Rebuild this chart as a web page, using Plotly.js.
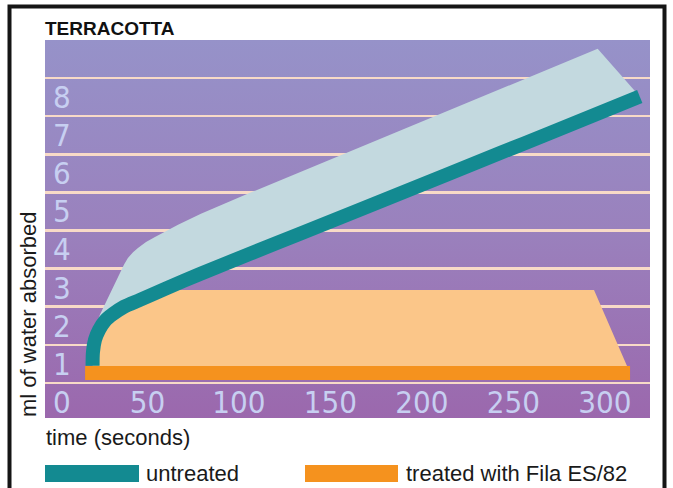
<!DOCTYPE html>
<html>
<head>
<meta charset="utf-8">
<script src="https://cdn.plot.ly/plotly-3.0.1.min.js"></script>
<style>
html,body{margin:0;padding:0;background:#fff;}
#chart{width:673px;height:488px;}
</style>
</head>
<body>
<div id="chart"></div>
<script>
// ---- text ----
const chartTitle = 'TERRACOTTA';
const xTitle = 'time (seconds)';
const yTitle = 'ml of water absorbed';
const seriesNames = ['untreated', 'treated with Fila ES/82'];
// the shared origin label "0" is carried by the y axis
const xTickVals = [50, 100, 150, 200, 250, 300];
const yTickVals = [0, 1, 2, 3, 4, 5, 6, 7, 8];

// ---- data ----
// untreated: front edge of the ribbon
const untreatedTime = [20.0, 20.2, 21.3, 23.5, 26.8, 31.2, 37.2, 45.9, 59.6, 78.7, 106, 133, 188, 243, 270, 319];
const untreatedMl   = [0.95, 1.31, 1.63, 1.89, 2.13, 2.31, 2.50, 2.68, 2.97, 3.36, 3.89, 4.41, 5.47, 6.54, 7.06, 8.02];
// untreated: back edge of the ribbon's top face
const untreatedBackTime = [20.2, 24.0, 30.1, 35.0, 37.2, 39.3, 42.1, 44.8, 49.2, 54.1, 66.7, 79.2, 106, 296];
const untreatedBackMl   = [1.76, 2.29, 2.89, 3.41, 3.61, 3.78, 3.93, 4.04, 4.20, 4.33, 4.65, 4.94, 5.49, 9.27];
// treated with Fila ES/82: front edge of the slab
const treatedTime = [15.9, 313.7];
const treatedMl   = [0.76, 0.76];
// treated: back edge of the slab's top face (right corner)
const treatedBackTime = [294];
const treatedBackMl   = [2.94];

// ---- colours ----
const teal = '#138a91', tealTop = '#c3d9df';
const orange = '#f5921e', orangeTop = '#fbc689';
const labelColor = '#c7cff1';
const gridColor = '#f8dac7';

// ---- build faces from the data ----
function interpX(x0, y0, x1, y1, yy) { return x0 + (x1 - x0) * (yy - y0) / (y1 - y0); }
const backLevel = treatedBackMl[0];
const kCross = untreatedMl.findIndex(v => v >= backLevel);
const xCross = interpX(untreatedTime[kCross - 1], untreatedMl[kCross - 1], untreatedTime[kCross], untreatedMl[kCross], backLevel);
const treatedTopX = [treatedTime[0], treatedTime[1], treatedBackTime[0], xCross];
const treatedTopY = [treatedMl[0], treatedMl[1], backLevel, backLevel];
for (let i = kCross - 1; i >= 0; i--) { treatedTopX.push(untreatedTime[i]); treatedTopY.push(untreatedMl[i]); }
treatedTopX.push(treatedTime[0]); treatedTopY.push(treatedMl[0]);

const untreatedTopX = [untreatedTime[0]].concat(untreatedBackTime, untreatedTime.slice().reverse());
const untreatedTopY = [untreatedMl[0]].concat(untreatedBackMl, untreatedMl.slice().reverse());

const traces = [
  {x: treatedTopX, y: treatedTopY, type: 'scatter', mode: 'lines', fill: 'toself',
   fillcolor: orangeTop, line: {width: 0, color: orangeTop}, hoverinfo: 'skip', showlegend: false},
  {x: treatedTime, y: treatedMl, type: 'scatter', mode: 'lines', name: seriesNames[1],
   line: {color: orange, width: 14}, showlegend: false},
  {x: untreatedTopX, y: untreatedTopY, type: 'scatter', mode: 'lines', fill: 'toself',
   fillcolor: tealTop, line: {width: 0, color: tealTop}, hoverinfo: 'skip', showlegend: false},
  {x: untreatedTime, y: untreatedMl, type: 'scatter', mode: 'lines', name: seriesNames[0],
   line: {color: teal, width: 14, shape: 'spline', smoothing: 0.8}, showlegend: false}
];

// ---- background gradient ----
const svgGrad = '<svg xmlns="http://www.w3.org/2000/svg" width="10" height="100" viewBox="0 0 10 100" preserveAspectRatio="none">' +
  '<defs><linearGradient id="g" x1="0" y1="0" x2="0" y2="1">' +
  '<stop offset="0" stop-color="#9692c9"/><stop offset="0.5" stop-color="#9a81bd"/><stop offset="1" stop-color="#9b68ad"/>' +
  '</linearGradient></defs><rect width="10" height="100" fill="url(#g)"/></svg>';
const gradientURI = 'data:image/svg+xml;base64,' + btoa(svgGrad);

const W = 673, H = 488, ML = 45, MR = 23, MT = 40, MB = 70;
const PW = W - ML - MR, PH = H - MT - MB;
const px = v => (v - ML) / PW;          // page x -> paper
const py = v => (H - MB - v) / PH;      // page y -> paper

const tickFont = {family: '"Liberation Sans Narrow", "DejaVu Sans Condensed", "Arial Narrow", sans-serif', size: 31, color: labelColor};
const textFont = {family: '"Liberation Sans", Arial, sans-serif', size: 22, color: '#1a1a1a'};

const layout = {
  width: W, height: H,
  margin: {l: ML, r: MR, t: MT, b: MB, pad: 0},
  paper_bgcolor: '#ffffff',
  plot_bgcolor: 'rgba(0,0,0,0)',
  title: {text: chartTitle, font: {family: '"Liberation Sans", Arial, sans-serif', size: 19, color: '#111', weight: 600},
          xref: 'container', x: ML / W, xanchor: 'left', yref: 'container', y: 1 - 28 / H, yanchor: 'middle'},
  xaxis: {range: [-6.0, 324.6], tickmode: 'array', tickvals: xTickVals, ticklabelposition: 'inside',
          ticklabeloverflow: 'allow', ticklabelstandoff: -4,
          ticks: '', showgrid: false, zeroline: false, showline: false, tickfont: tickFont, fixedrange: true},
  yaxis: {range: [-0.42, 9.5], tickmode: 'array', tickvals: yTickVals, ticklabelposition: 'inside',
          ticklabelstandoff: 5, ticklabeloverflow: 'allow',
          ticks: '', showgrid: false, zeroline: false, showline: false, tickfont: tickFont, fixedrange: true,
          minor: {tickmode: 'linear', tick0: 0.5, dtick: 1, showgrid: true, gridcolor: gridColor, gridwidth: 2.5, ticks: ''}},
  images: [{source: gradientURI, xref: 'paper', yref: 'paper', x: 0, y: 1, sizex: 1, sizey: 1,
            xanchor: 'left', yanchor: 'top', sizing: 'stretch', layer: 'below'}],
  shapes: [
    {type: 'rect', xref: 'paper', yref: 'paper', x0: px(9.5), x1: px(664.5), y0: py(530), y1: py(6.5),
     line: {color: '#151515', width: 4}, fillcolor: 'rgba(0,0,0,0)', layer: 'above'},
    {type: 'rect', xref: 'paper', yref: 'paper', x0: px(45), x1: px(139), y0: py(482), y1: py(465),
     line: {width: 0}, fillcolor: teal},
    {type: 'rect', xref: 'paper', yref: 'paper', x0: px(305), x1: px(398), y0: py(482), y1: py(465),
     line: {width: 0}, fillcolor: orange}
  ],
  annotations: [
    {text: xTitle, xref: 'paper', yref: 'paper', x: px(44), y: py(437), xanchor: 'left', yanchor: 'middle',
     showarrow: false, font: textFont},
    {text: yTitle, xref: 'paper', yref: 'paper', x: px(28), y: py(315), xanchor: 'center', yanchor: 'middle',
     textangle: -90, showarrow: false, font: textFont},
    {text: seriesNames[0], xref: 'paper', yref: 'paper', x: px(144), y: py(473), xanchor: 'left', yanchor: 'middle',
     showarrow: false, font: textFont},
    {text: seriesNames[1], xref: 'paper', yref: 'paper', x: px(404), y: py(473), xanchor: 'left', yanchor: 'middle',
     showarrow: false, font: textFont}
  ],
  showlegend: false
};

Plotly.newPlot('chart', traces, layout, {staticPlot: true, displayModeBar: false});
</script>
</body>
</html>
